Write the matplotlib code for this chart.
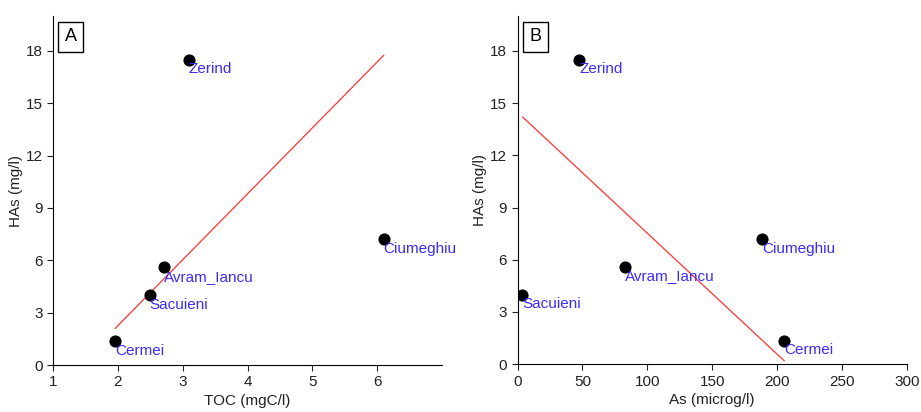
import matplotlib.pyplot as plt

plt.rcParams['font.family'] = ['Liberation Sans', 'DejaVu Sans']

# Datos
sites = ['Cermei', 'Sacuieni', 'Avram_Iancu', 'Zerind', 'Ciumeghiu']
has = [1.35, 4.0, 5.6, 17.5, 7.2]
toc = [1.96, 2.49, 2.71, 3.09, 6.1]
as_ = [205.6, 3.5, 82.5, 47.5, 188.5]

# Rectas de ajuste (extremos)
fit_toc_x = [1.96, 6.1]
fit_toc_y = [2.1, 17.75]
fit_as_x = [3.9, 205.5]
fit_as_y = [14.2, 0.2]

fig = plt.figure(figsize=(9.21, 4.12), dpi=100)
axA = fig.add_axes([0.0575, 0.114, 0.4225, 0.847])
axB = fig.add_axes([0.562, 0.116, 0.4225, 0.845])

panels = [
    (axA, toc, fit_toc_x, fit_toc_y, 'A', 'TOC (mgC/l)', (1, 7), [1, 2, 3, 4, 5, 6]),
    (axB, as_, fit_as_x, fit_as_y, 'B', 'As (microg/l)', (0, 300), [0, 50, 100, 150, 200, 250, 300]),
]

for ax, xv, fx, fy, letter, xlabel, xlim, xticks in panels:
    ax.plot(fx, fy, color='#ff3333', linewidth=0.9, zorder=1)
    ax.scatter(xv, has, s=60, color='black', zorder=3)
    for name, x, y in zip(sites, xv, has):
        ax.annotate(name, (x, y), xytext=(0, -2), textcoords='offset points',
                    ha='left', va='top', color='#3a2cff', fontsize=11)
    ax.set_xlim(*xlim)
    ax.set_ylim(0, 20)
    ax.set_xticks(xticks)
    ax.set_yticks([0, 3, 6, 9, 12, 15, 18])
    ax.spines['top'].set_visible(False)
    ax.spines['right'].set_visible(False)
    ax.tick_params(direction='out', length=4, labelsize=11, colors='#222222')
    ax.set_xlabel(xlabel, fontsize=11, color='#222222', labelpad=3)
    ax.set_ylabel('HAs (mg/l)', fontsize=11, color='#222222', labelpad=2)
    ax.text(0.03, 0.965, letter, transform=ax.transAxes, fontsize=13, ha='left', va='top',
            bbox=dict(boxstyle='square,pad=0.35', facecolor='white', edgecolor='black', linewidth=1))

fig.savefig('out.png', dpi=100)
